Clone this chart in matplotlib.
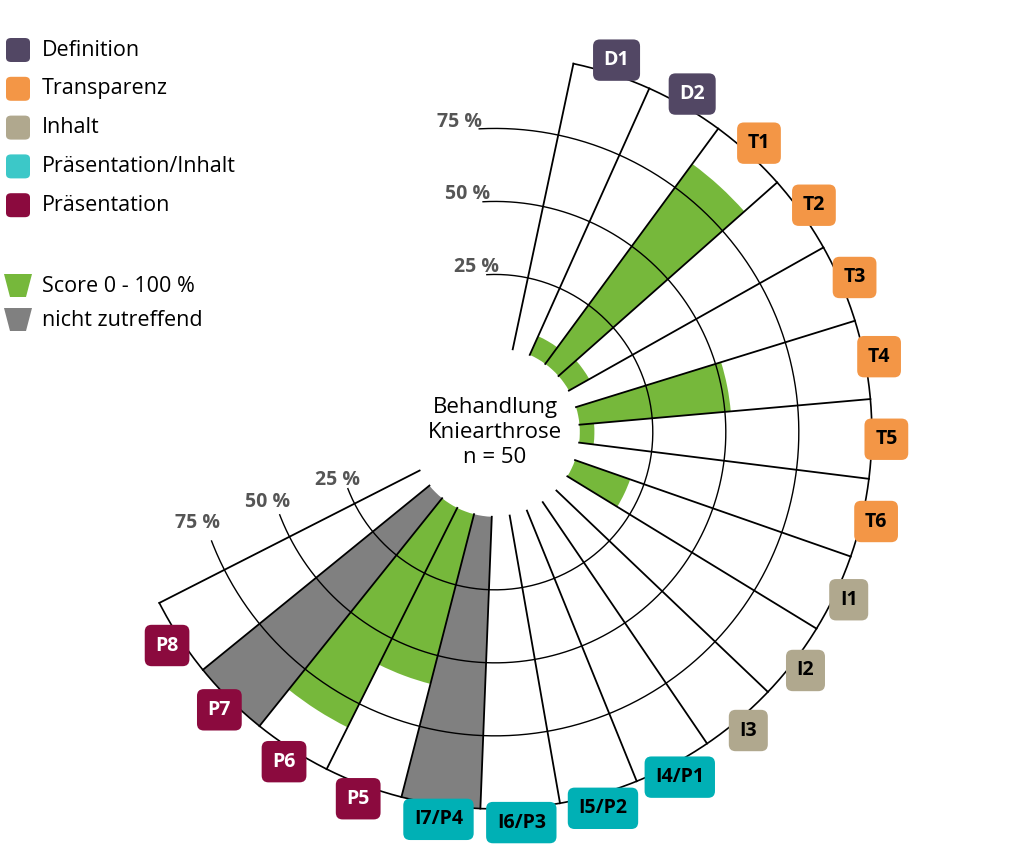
import numpy as np
import matplotlib
matplotlib.use("Agg")
import matplotlib.pyplot as plt
from matplotlib.patches import FancyBboxPatch, Polygon

plt.rcParams["font.family"] = ["Open Sans", "DejaVu Sans"]

labels = ["D1", "D2", "T1", "T2", "T3", "T4", "T5", "T6", "I1", "I2", "I3",
          "I4/P1", "I5/P2", "I6/P3", "I7/P4", "P5", "P6", "P7", "P8"]
groups = ["D", "D", "T", "T", "T", "T", "T", "T", "I", "I", "I",
          "IP", "IP", "IP", "IP", "P", "P", "P", "P"]
scores = [0, 7, 85, 8, 0, 52, 5, 0, 20, 0, 0, 0, 0, 0, 0, 60, 84, 0, 0]
not_applicable = [14, 17]  # indices of I7/P4 and P7

group_names = ["Definition", "Transparenz", "Inhalt", "Präsentation/Inhalt", "Präsentation"]
group_keys = ["D", "T", "I", "IP", "P"]
box_colors = {"D": "#524764", "T": "#f39646", "I": "#b0a88e", "IP": "#00b0b5", "P": "#8b0a3e"}
legend_colors = {"D": "#524764", "T": "#f39646", "I": "#b0a88e", "IP": "#3cc8c8", "P": "#8b0a3e"}
text_colors = {"D": "white", "T": "black", "I": "black", "IP": "black", "P": "white"}
GREEN = "#76b83b"
GREY = "#808080"

base = 29.0
start = np.deg2rad(12.0)
step = np.deg2rad(12.16)
n = len(labels)
end = start + n * step

fig = plt.figure(figsize=(10.24, 8.5), dpi=100)
ax = fig.add_axes([0.084, 0.0106, 0.799, 0.962], projection="polar")
ax.set_theta_zero_location("N")
ax.set_theta_direction(-1)
ax.set_ylim(0, 140)
ax.axis("off")

lefts = start + np.arange(n) * step
ax.bar(lefts, scores, width=step, bottom=base, align="edge", color=GREEN, lw=0, zorder=1)
for i in not_applicable:
    ax.bar(lefts[i], 100, width=step, bottom=base, align="edge", color=GREY, lw=0, zorder=1)

# rings
for v in [25, 50, 75]:
    th = np.linspace(np.deg2rad(-3), np.deg2rad(249), 300)
    ax.plot(th, np.full_like(th, base + v), color="black", lw=1, zorder=2)
    ax.text(np.deg2rad(-6.5), base + v + 3, f"{v} %", ha="center", va="center",
            fontsize=14, fontweight="bold", color="#555555")
    ax.text(np.deg2rad(253), base + v + 2.5, f"{v} %", ha="center", va="center",
            fontsize=14, fontweight="bold", color="#555555")
th = np.linspace(start, end, 300)
ax.plot(th, np.full_like(th, base + 100), color="black", lw=1.2, zorder=2)

# radial lines
for k in range(n + 1):
    a = start + k * step
    ax.plot([a, a], [base, base + 100], color="black", lw=1.3, zorder=3)

# sector labels
for i, lab in enumerate(labels):
    g = groups[i]
    ax.text(lefts[i] + step / 2, base + 105, lab, ha="center", va="center",
            fontsize=14, fontweight="bold", color=text_colors[g], zorder=5,
            bbox=dict(boxstyle="round,pad=0.55,rounding_size=0.35",
                      fc=box_colors[g], ec="none"))

ax.text(0, 0, "Behandlung\nKniearthrose\nn = 50", ha="center", va="center",
        fontsize=16, linespacing=1.25, transform=ax.transData)

# legend
W, H = 1024, 850
for j, (key, name) in enumerate(zip(group_keys, group_names)):
    yc = 50 + j * 38.8
    fig.patches.append(FancyBboxPatch((6 / W, 1 - (yc + 12) / H), 24 / W, 24 / H,
                                      boxstyle="round,pad=0,rounding_size=0.005",
                                      transform=fig.transFigure, fc=legend_colors[key], ec="none"))
    fig.text(42 / W, 1 - yc / H, name, fontsize=15.5, va="center", ha="left")

for j, (col, name) in enumerate([(GREEN, "Score 0 - 100 %"), (GREY, "nicht zutreffend")]):
    yc = 286 + j * 34
    pts = [(4, yc - 12), (32, yc - 12), (26, yc + 11), (10, yc + 11)]
    fig.patches.append(Polygon([(x / W, 1 - y / H) for x, y in pts], closed=True,
                               transform=fig.transFigure, fc=col, ec="none"))
    fig.text(42 / W, 1 - yc / H, name, fontsize=15.5, va="center", ha="left")

fig.savefig("out.png", dpi=100)
